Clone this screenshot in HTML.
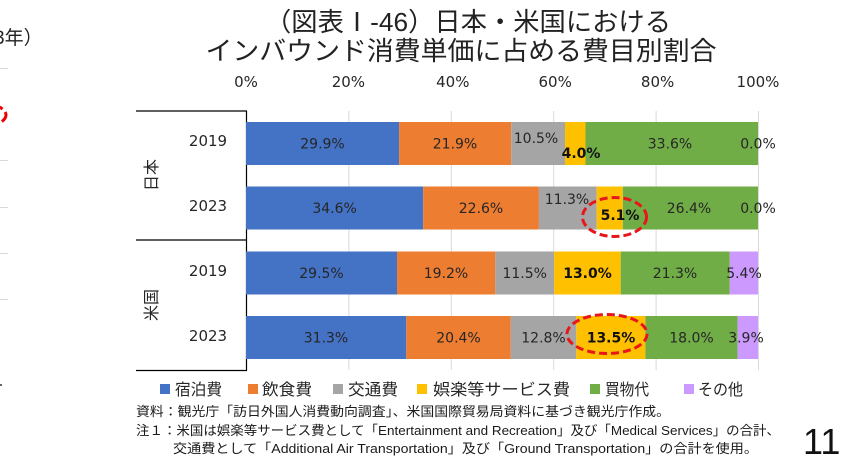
<!DOCTYPE html>
<html><head><meta charset="utf-8"><style>
html,body{margin:0;padding:0;background:#fff;}
svg{display:block;}
text{font-family:"DejaVu Sans","Noto Sans CJK JP",sans-serif;}
.jp{font-family:"Liberation Sans","Noto Sans CJK JP",sans-serif;}
</style></head><body>
<svg width="856" height="460" viewBox="0 0 856 460" xmlns="http://www.w3.org/2000/svg">
<rect width="856" height="460" fill="#fff"/>
<!-- left residual -->
<text class="jp" x="-6" y="44" font-size="19" fill="#222">3年）</text>
<g stroke="#d9d9d9" stroke-width="1">
<line x1="0" y1="68.5" x2="8" y2="68.5"/><line x1="0" y1="160.5" x2="8" y2="160.5"/>
<line x1="0" y1="207.5" x2="8" y2="207.5"/><line x1="0" y1="253.5" x2="8" y2="253.5"/>
<line x1="0" y1="299.5" x2="8" y2="299.5"/>
</g>
<ellipse cx="-20" cy="115" rx="26" ry="12" fill="none" stroke="#e00" stroke-width="3" stroke-dasharray="8 4"/>
<rect x="0" y="384" width="2" height="2" fill="#666"/>
<!-- title -->
<text class="jp" x="468" y="31" font-size="26" fill="#222" text-anchor="middle" textLength="406" lengthAdjust="spacingAndGlyphs">（図表Ⅰ-46）日本・米国における</text>
<text class="jp" x="461" y="60" font-size="26" fill="#222" text-anchor="middle" textLength="511" lengthAdjust="spacingAndGlyphs">インバウンド消費単価に占める費目別割合</text>
<!-- ticks -->
<g font-size="15" fill="#262626" text-anchor="middle">
<text x="246" y="87">0%</text><text x="348.4" y="87">20%</text><text x="452.8" y="87">40%</text>
<text x="555.2" y="87">60%</text><text x="657.6" y="87">80%</text><text x="758" y="87">100%</text>
</g>
<!-- gridlines -->
<g stroke="#d9d9d9" stroke-width="1">
<line x1="348.9" y1="111" x2="348.9" y2="370"/><line x1="451.3" y1="111" x2="451.3" y2="370"/>
<line x1="553.7" y1="111" x2="553.7" y2="370"/><line x1="656.1" y1="111" x2="656.1" y2="370"/>
<line x1="758.5" y1="111" x2="758.5" y2="370"/>
</g>
<!-- category box -->
<g stroke="#000" stroke-width="1.2" fill="none">
<line x1="136" y1="111" x2="247" y2="111"/>
<line x1="246.5" y1="111" x2="246.5" y2="370.5"/>
<line x1="136" y1="240" x2="247" y2="240"/>
<line x1="136" y1="370.5" x2="247" y2="370.5"/>
</g>
<g font-size="15" fill="#262626" text-anchor="middle">
<text x="208" y="146">2019</text><text x="208" y="211">2023</text>
<text x="208" y="276">2019</text><text x="208" y="341">2023</text>
</g>
<text class="jp" font-size="16" fill="#262626" text-anchor="middle" transform="translate(157,175) rotate(-90)">日本</text>
<text class="jp" font-size="16" fill="#262626" text-anchor="middle" transform="translate(157,305) rotate(-90)">米国</text>
<!-- bars -->
<g>
<!-- row1 -->
<rect x="246" y="122" width="153.1" height="43" fill="#4472C4"/>
<rect x="399.1" y="122" width="112.1" height="43" fill="#ED7D31"/>
<rect x="511.2" y="122" width="53.8" height="43" fill="#A5A5A5"/>
<rect x="565" y="122" width="20.5" height="43" fill="#FFC000"/>
<rect x="585.5" y="122" width="172.5" height="43" fill="#70AD47"/>
<!-- row2 -->
<rect x="246" y="186.5" width="177.2" height="43" fill="#4472C4"/>
<rect x="423.2" y="186.5" width="115.7" height="43" fill="#ED7D31"/>
<rect x="538.9" y="186.5" width="57.8" height="43" fill="#A5A5A5"/>
<rect x="596.7" y="186.5" width="26.1" height="43" fill="#FFC000"/>
<rect x="622.8" y="186.5" width="135.2" height="43" fill="#70AD47"/>
<!-- row3 -->
<rect x="246" y="251.5" width="151" height="43" fill="#4472C4"/>
<rect x="397" y="251.5" width="98.3" height="43" fill="#ED7D31"/>
<rect x="495.3" y="251.5" width="58.9" height="43" fill="#A5A5A5"/>
<rect x="554.2" y="251.5" width="66.5" height="43" fill="#FFC000"/>
<rect x="620.7" y="251.5" width="109.1" height="43" fill="#70AD47"/>
<rect x="729.8" y="251.5" width="28.2" height="43" fill="#CC99FF"/>
<!-- row4 -->
<rect x="246" y="316" width="160.3" height="43" fill="#4472C4"/>
<rect x="406.3" y="316" width="104.5" height="43" fill="#ED7D31"/>
<rect x="510.8" y="316" width="65.5" height="43" fill="#A5A5A5"/>
<rect x="576.3" y="316" width="69.1" height="43" fill="#FFC000"/>
<rect x="645.4" y="316" width="92.2" height="43" fill="#70AD47"/>
<rect x="737.6" y="316" width="20.4" height="43" fill="#CC99FF"/>
</g>
<!-- data labels -->
<g font-size="14" fill="#262626" text-anchor="middle">
<text x="322.5" y="148.5">29.9%</text><text x="455" y="148.5">21.9%</text>
<text x="536" y="143">10.5%</text><text x="581" y="158" font-weight="bold" fill="#111">4.0%</text>
<text x="670" y="148.5">33.6%</text><text x="758" y="148.5">0.0%</text>

<text x="334.6" y="213">34.6%</text><text x="481" y="213">22.6%</text>
<text x="567" y="204">11.3%</text><text x="620" y="220" font-weight="bold" fill="#111">5.1%</text>
<text x="689" y="213">26.4%</text><text x="758" y="213">0.0%</text>

<text x="321.5" y="278">29.5%</text><text x="446" y="278">19.2%</text>
<text x="524.7" y="278">11.5%</text><text x="587.5" y="278" font-weight="bold" fill="#111">13.0%</text>
<text x="675" y="278">21.3%</text><text x="744" y="278">5.4%</text>

<text x="326" y="342.5">31.3%</text><text x="458.5" y="342.5">20.4%</text>
<text x="543.5" y="342.5">12.8%</text><text x="611" y="342.5" font-weight="bold" fill="#111">13.5%</text>
<text x="691.5" y="342.5">18.0%</text><text x="746" y="342.5">3.9%</text>
</g>
<!-- red ellipses -->
<ellipse cx="614.5" cy="217" rx="32" ry="19.5" fill="none" stroke="#e8161b" stroke-width="3" stroke-dasharray="8 4"/>
<ellipse cx="607" cy="334" rx="40" ry="19.5" fill="none" stroke="#e8161b" stroke-width="3" stroke-dasharray="8 4"/>
<!-- legend -->
<g>
<rect x="160" y="384" width="10" height="10" fill="#4472C4"/>
<rect x="248" y="384" width="10" height="10" fill="#ED7D31"/>
<rect x="333" y="384" width="10" height="10" fill="#A5A5A5"/>
<rect x="417" y="384" width="10" height="10" fill="#FFC000"/>
<rect x="590" y="384" width="10" height="10" fill="#70AD47"/>
<rect x="684" y="384" width="10" height="10" fill="#CC99FF"/>
</g>
<g class="jp" font-size="16" fill="#262626">
<text class="jp" x="175" y="395" textLength="47" lengthAdjust="spacingAndGlyphs">宿泊費</text>
<text class="jp" x="262" y="395" textLength="50" lengthAdjust="spacingAndGlyphs">飲食費</text>
<text class="jp" x="348" y="395" textLength="50" lengthAdjust="spacingAndGlyphs">交通費</text>
<text class="jp" x="433" y="395" textLength="137" lengthAdjust="spacingAndGlyphs">娯楽等サービス費</text>
<text class="jp" x="605" y="395" textLength="44" lengthAdjust="spacingAndGlyphs">買物代</text>
<text class="jp" x="698" y="395" textLength="45" lengthAdjust="spacingAndGlyphs">その他</text>
</g>
<!-- notes -->
<g font-size="13" fill="#1a1a1a">
<text class="jp" x="136" y="416" textLength="534" lengthAdjust="spacingAndGlyphs">資料：観光庁「訪日外国人消費動向調査」、米国国際貿易局資料に基づき観光庁作成。</text>
<text class="jp" x="136" y="435" textLength="644" lengthAdjust="spacingAndGlyphs">注１：米国は娯楽等サービス費として「Entertainment and Recreation」及び「Medical Services」の合計、</text>
<text class="jp" x="173" y="453" textLength="585" lengthAdjust="spacingAndGlyphs">交通費として「Additional Air Transportation」及び「Ground Transportation」の合計を使用。</text>
</g>
<text x="803" y="454" font-family="Liberation Sans, sans-serif" font-size="36" fill="#111" style="font-family:'Liberation Sans',sans-serif">11</text>
</svg>
</body></html>
